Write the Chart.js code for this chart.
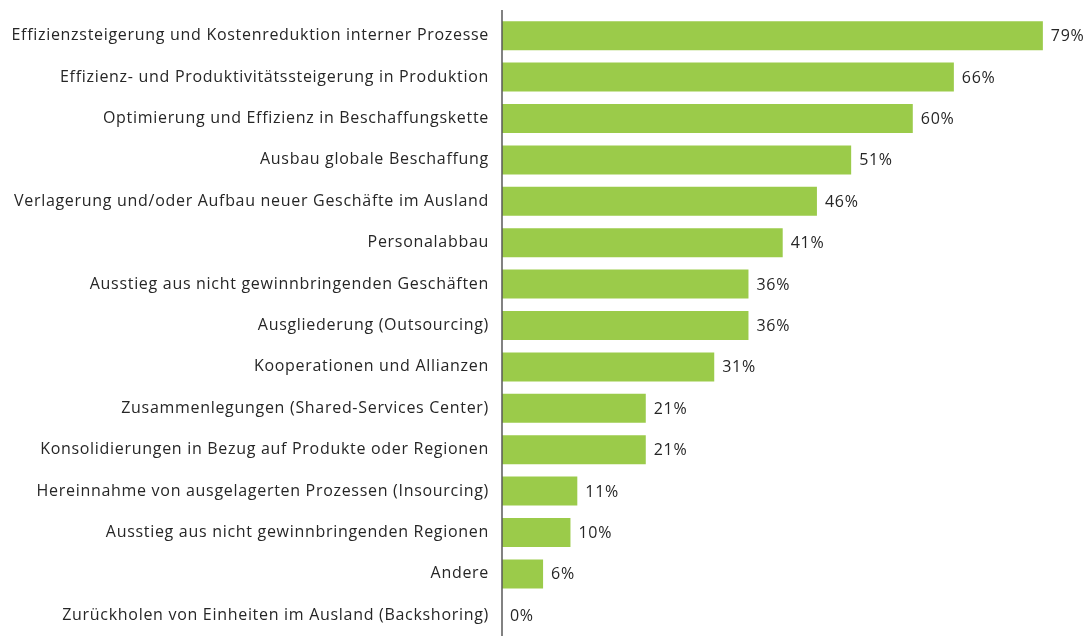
<!DOCTYPE html>
<html>
<head>
<meta charset="utf-8">
<script src="https://cdn.jsdelivr.net/npm/chart.js@4/dist/chart.umd.min.js"></script>
<style>
  html, body { margin: 0; padding: 0; background: #fff; }
  #wrap { width: 1086px; height: 636px; position: relative; }
</style>
</head>
<body>
<div id="wrap"><canvas id="c" width="1086" height="636"></canvas></div>
<script>
const categories = [
  "Effizienzsteigerung und Kostenreduktion interner Prozesse",
  "Effizienz- und Produktivitätssteigerung in Produktion",
  "Optimierung und Effizienz in Beschaffungskette",
  "Ausbau globale Beschaffung",
  "Verlagerung und/oder Aufbau neuer Geschäfte im Ausland",
  "Personalabbau",
  "Ausstieg aus nicht gewinnbringenden Geschäften",
  "Ausgliederung (Outsourcing)",
  "Kooperationen und Allianzen",
  "Zusammenlegungen (Shared-Services Center)",
  "Konsolidierungen in Bezug auf Produkte oder Regionen",
  "Hereinnahme von ausgelagerten Prozessen (Insourcing)",
  "Ausstieg aus nicht gewinnbringenden Regionen",
  "Andere",
  "Zurückholen von Einheiten im Ausland (Backshoring)"
];
const values = [79, 66, 60, 51, 46, 41, 36, 36, 31, 21, 21, 11, 10, 6, 0];

const FONT = "'Open Sans', 'Noto Sans', sans-serif";
const TEXT = "#262626";

const spacing = {
  id: 'spacing',
  beforeDraw(chart) { chart.ctx.letterSpacing = "0.7px"; },
  afterDraw(chart) { chart.ctx.letterSpacing = "0px"; }
};

const valueLabels = {
  id: 'valueLabels',
  afterDatasetsDraw(chart) {
    const ctx = chart.ctx;
    const meta = chart.getDatasetMeta(0);
    ctx.save();
    ctx.font = "16px " + FONT;
    ctx.fillStyle = TEXT;
    ctx.textAlign = "left";
    ctx.textBaseline = "middle";
    meta.data.forEach((bar, i) => {
      ctx.fillText(values[i] + "%", bar.x + 8, bar.y + 1);
    });
    ctx.restore();
  }
};

const axisLine = {
  id: 'axisLine',
  afterDraw(chart) {
    const ctx = chart.ctx;
    const x = chart.scales.x.getPixelForValue(0);
    ctx.save();
    ctx.strokeStyle = "#595959";
    ctx.lineWidth = 1.5;
    ctx.beginPath();
    ctx.moveTo(x, 10);
    ctx.lineTo(x, chart.height);
    ctx.stroke();
    ctx.restore();
  }
};

new Chart(document.getElementById('c'), {
  type: 'bar',
  data: {
    labels: categories,
    datasets: [{
      data: values,
      backgroundColor: "#9BCB4A",
      borderWidth: 0,
      barPercentage: 0.7,
      categoryPercentage: 1.0
    }]
  },
  options: {
    indexAxis: 'y',
    responsive: false,
    animation: false,
    layout: { padding: { left: 0, right: 0, top: 15, bottom: -2 } },
    plugins: { legend: { display: false }, tooltip: { enabled: false } },
    scales: {
      x: {
        min: 0, max: 85.3,
        display: false,
        grid: { display: false }
      },
      y: {
        afterFit(scale) {
          scale.width = 502;
          scale.paddingTop = 0;
          scale.paddingBottom = 0;
        },
        grid: { display: false, drawTicks: false },
        border: { display: false },
        ticks: {
          padding: 13,
          color: TEXT,
          font: { family: FONT, size: 16 }
        }
      }
    }
  },
  plugins: [spacing, valueLabels, axisLine]
});
</script>
</body>
</html>
